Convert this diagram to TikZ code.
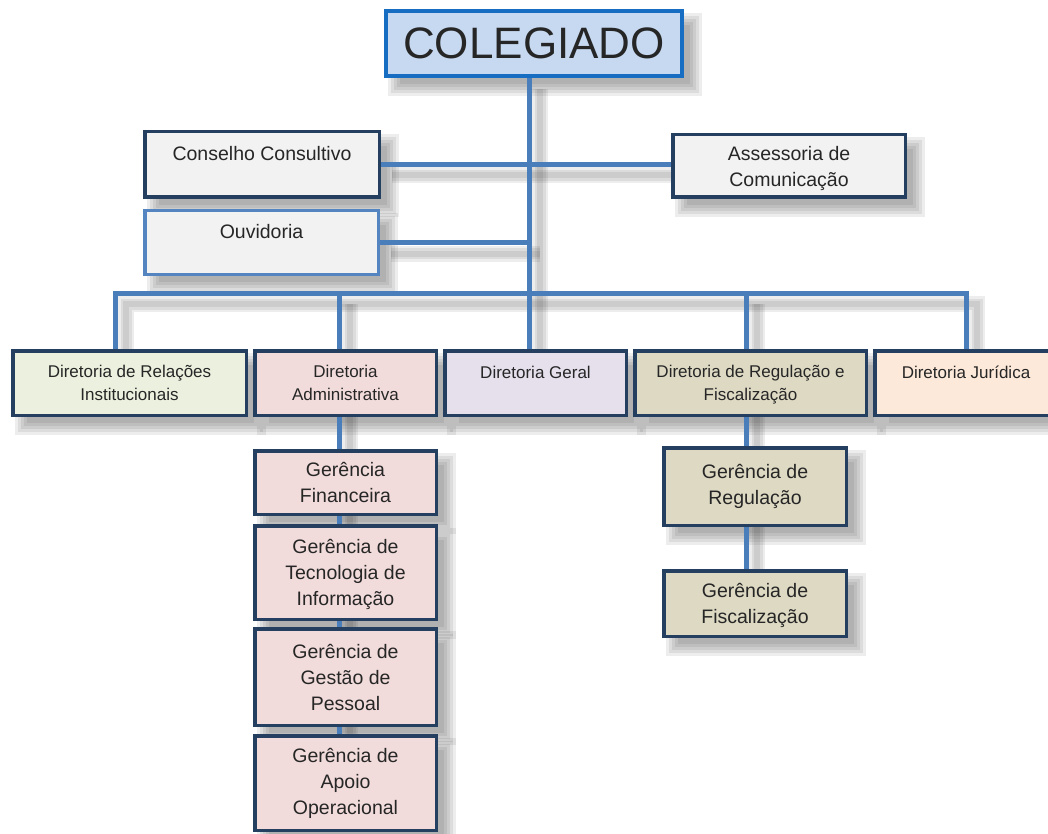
\documentclass[tikz,border=0pt]{standalone}
\usepackage{fontspec}
\setmainfont{Liberation Sans}
\usetikzlibrary{positioning,calc}

\definecolor{colborder}{RGB}{23,109,193}
\definecolor{colfill}{RGB}{198,217,241}
\definecolor{navy}{RGB}{36,63,96}
\definecolor{ouvborder}{RGB}{84,133,192}
\definecolor{linkblue}{RGB}{74,126,187}
\definecolor{boxgray}{RGB}{242,242,242}
\definecolor{relfill}{RGB}{235,241,222}
\definecolor{admfill}{RGB}{242,220,219}
\definecolor{gerfill}{RGB}{229,224,236}
\definecolor{regfill}{RGB}{221,217,195}
\definecolor{jurfill}{RGB}{253,233,217}
\definecolor{txt}{RGB}{38,38,38}

\pgfdeclarelayer{shadow}
\pgfdeclarelayer{background}
\pgfsetlayers{shadow,background,main}

\newcommand{\conn}[1]{%
  \begin{pgfonlayer}{shadow}
    \foreach \w in {16,11,6}
      \draw[line width=\w pt,black,opacity=.07,transform canvas={shift={(11pt,-11pt)}}] #1;
  \end{pgfonlayer}
  \begin{pgfonlayer}{background}
    \draw[link] #1;
  \end{pgfonlayer}}

\begin{document}
\begin{tikzpicture}[x=1pt,y=-1pt]
                    \tikzstyle{every node}=[rectangle,draw=navy,line width=3.5pt,inner sep=0,text=txt,align=center]
                    \tikzstyle{big}=[font=\fontsize{44}{50}\selectfont]
                    \tikzstyle{mid}=[font=\fontsize{19.5}{26}\selectfont]
                    \tikzstyle{small}=[font=\fontsize{17}{23}\selectfont]
                    \tikzstyle{dir}=[small,minimum height=64.5]
                    \tikzstyle{ger}=[mid,fill=admfill,minimum width=181.5]
                    \tikzstyle{link}=[draw=linkblue,line width=5pt]
                    \useasboundingbox (0,0) rectangle (1048,834);
                    {
                        \node[big,fill=colfill,draw=colborder,line width=4pt,minimum width=296,minimum height=65] (coleg) at (534,43.5) {COLEGIADO};

                        \node[mid,fill=boxgray,minimum width=234.5,text height=29.25pt,text depth=36.25pt] (conselho) at (262,164.5) {Conselho Consultivo};
                        \node[mid,fill=boxgray,draw=ouvborder,minimum width=233.5,text height=28.25pt,text depth=35.25pt] (ouvid) at (261.5,242.5) {Ouvidoria};
                        \node[mid,fill=boxgray,minimum width=232.5,minimum height=62.5,text depth=-7pt] (assess) at (789,166) {Assessoria de\\Comunicação};

                        \node[dir,fill=relfill,minimum width=233.5] (relac) at (129.5,383) {Diretoria de Relações\\Institucionais};
                        \node[dir,fill=admfill,minimum width=181.5] (admin) at (345.5,383) {Diretoria\\Administrativa};
                        \node[small,fill=gerfill,minimum width=181.5,text height=27.25pt,text depth=37.25pt] (geral) at (535.5,383) {Diretoria Geral};
                        \node[dir,fill=regfill,minimum width=231.5,text depth=-4pt] (regul) at (750.5,383) {Diretoria de Regulação e\\Fiscalização};
                        \node[small,fill=jurfill,minimum width=182.5,text height=27.25pt,text depth=37.25pt] (jurid) at (966,383) {Diretoria Jurídica};

                        \node[ger,minimum height=63.5] (gfin) at (345.5,482.5) {Gerência\\Financeira};
                        \node[ger,minimum height=93.5,text depth=-2pt] (gtec) at (345.5,572.5) {Gerência de\\Tecnologia de\\Informação};
                        \node[ger,minimum height=96.5] (gpes) at (345.5,677) {Gerência de\\Gestão de\\Pessoal};
                        \node[ger,minimum height=94.5] (gapo) at (345.5,783) {Gerência de\\Apoio\\Operacional};

                        \node[mid,fill=regfill,minimum width=182.5,minimum height=77.5] (greg) at (755,486.5) {Gerência de\\Regulação};
                        \node[mid,fill=regfill,minimum width=182.5,minimum height=65.5,text depth=-4pt] (gfis) at (755,603.5) {Gerência de\\Fiscalização};

                        \begin{pgfonlayer}{shadow}
                            \foreach \n in {coleg,conselho,ouvid,assess,relac,admin,geral,regul,jurid,gfin,gtec,gpes,gapo,greg,gfis}
                                \foreach \e in {0,3,6,9,12}
                                    \fill[black,opacity=.07]
                                        ([xshift={(16-\e)*1pt},yshift={(-6-\e)*1pt}]\n.south west) rectangle ([xshift={(6+\e)*1pt},yshift={(-16+\e)*1pt}]\n.north east);
                        \end{pgfonlayer}

                        \coordinate (tk) at (529,293);
                        \coordinate (ax) at ([xshift=-6.5pt]admin.north);
                        \coordinate (rx) at ([xshift=-4.5pt]regul.north);

                        \conn{(tk |- coleg.south) -- (tk |- geral.north)}
                        \conn{(conselho.east) -- (conselho.east -| assess.west)}
                        \conn{(ouvid.east) -- (ouvid.east -| tk)}
                        \conn{([xshift=-14.5pt]relac.north) |- (tk) -| (jurid.north)}
                        \conn{(ax |- tk) -- (ax |- gapo.north)}
                        \conn{(rx |- tk) -- (rx |- gfis.north)}
                    }
                \end{tikzpicture}
\end{document}
